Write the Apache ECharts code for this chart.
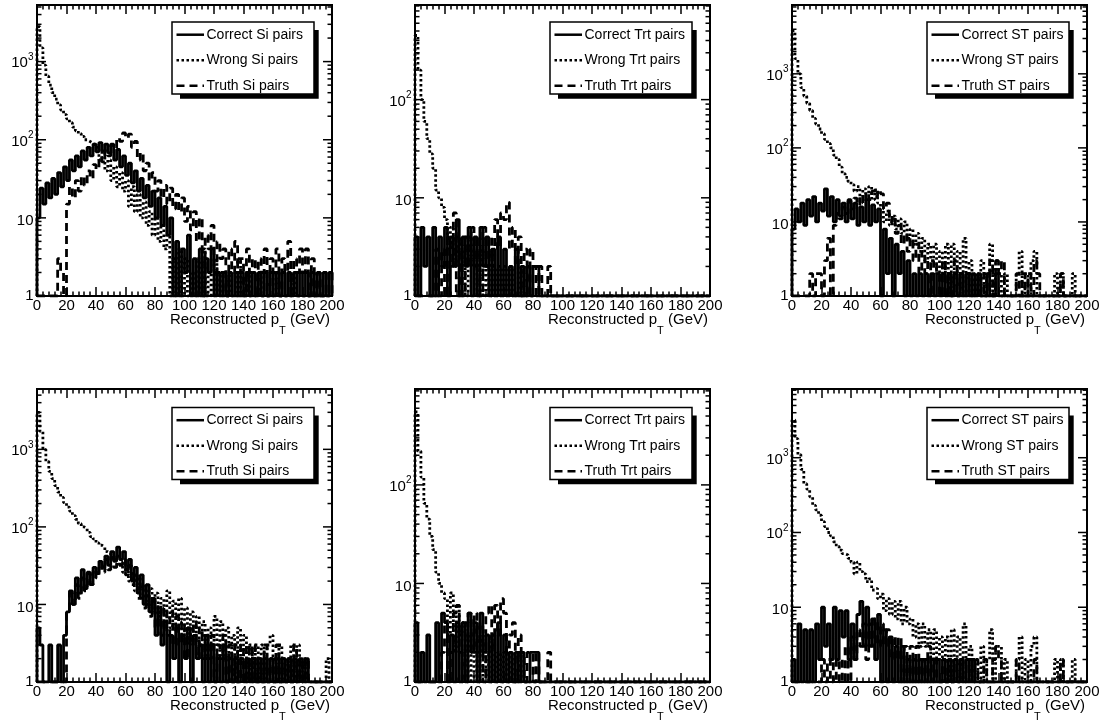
<!DOCTYPE html>
<html>
<head>
<meta charset="utf-8">
<script src="https://cdn.jsdelivr.net/npm/echarts@6/dist/echarts.min.js"></script>
<style>
html,body{margin:0;padding:0;background:#fff;}
#chart{width:1107px;height:724px;}
</style>
</head>
<body>
<div id="chart"></div>
<script>
// ---------------- DATA ----------------
const BIN_WIDTH = 2;            // GeV per bin
const X_RANGE = [0, 200];       // reconstructed pT range (GeV)
const X_TICK_INTERVAL = 20;
const Y_MANTISSAS = [1, 2, 3, 4, 5, 6, 7, 8, 9];
const detectors = ['Si', 'Trt', 'ST'];
const kinds = ['Correct', 'Wrong', 'Truth'];
const xTitle = 'Reconstructed p{sub|T} (GeV)';
const yAxisMax = [5300, 920, 8500, 6000, 940, 8300];

// Row 1 — Si
const row1SiCorrect = [10,24,15,28,18,32,20,38,25,45, 30,55,40,62,45,72,55,80,62,88, 70,92,72,88,68,85,55,75,45,62, 35,50,28,40,22,32,18,26,14,22, 10,18,8,14,6,10,0,5,1,4, 2,6,1,3,0,4,1,3,2,4, 1,2,1,2,1,2,1,2,1,2, 1,2,1,2,1,2,1,2,1,2, 1,2,1,2,1,2,1,2,1,2, 1,2,1,2,1,2,1,2,1,2];
const row1SiWrong = [2800,1500,900,650,500,400,330,280,240,210, 185,165,145,130,120,110,100,95,90,85, 80,55,70,40,55,30,45,25,38,22, 30,14,25,12,20,10,16,8,12,6, 10,5,8,4,6,0,3,1,4,0, 3,1,2,0,3,1,4,0,2,1, 3,0,2,1,0,2,1,0,3,0, 1,2,0,1,0,2,0,1,0,1, 0,2,0,1,0,1,0,2,0,1, 0,1,0,0,1,0,0,1,0,0];
const row1SiTruth = [0,0,0,0,0,0,0,3,2,0, 15,25,18,30,22,34,26,40,32,48, 42,60,52,72,62,88,78,105,95,122, 105,118,80,95,55,68,40,50,30,38, 22,30,18,26,15,24,13,20,12,18, 9,14,7,12,5,10,1,6,4,8, 2,5,3,4,1,4,2,5,2,3, 1,4,2,3,1,3,2,4,1,3, 2,4,1,3,2,5,1,3,2,4, 2,4,1,3,0,2,0,1,2,2];

// Row 1 — Trt
const row1TrtCorrect = [4,1,5,2,4,1,5,1,4,2, 5,1,4,2,6,1,4,2,5,1, 4,1,5,2,4,1,3,1,4,1, 3,1,2,1,3,1,2,1,2,1, 2,2,0,0,0,0,0,0,0,0, 0,0,0,0,0,0,0,0,0,0, 0,0,0,0,0,0,0,0,0,0, 0,0,0,0,0,0,0,0,0,0, 0,0,0,0,0,0,0,0,0,0, 0,0,0,0,0,0,0,0,0,0];
const row1TrtWrong = [450,200,100,60,40,28,20,12,10,8, 6,3,5,2,4,2,3,1,4,2, 3,1,3,1,2,1,3,1,2,1, 2,1,2,0,1,2,0,1,0,1, 0,0,0,0,0,0,0,0,0,0, 0,0,0,0,0,0,0,0,0,0, 0,0,0,0,0,0,0,0,0,0, 0,0,0,0,0,0,0,0,0,0, 0,0,0,0,0,0,0,0,0,0, 0,0,0,0,0,0,0,0,0,0];
const row1TrtTruth = [0,0,0,0,0,0,1,3,1,3, 1,4,2,7,1,4,1,4,2,5, 2,4,1,5,2,4,2,6,3,7, 6,9,3,5,2,4,1,3,1,3, 2,1,2,0,0,2,0,0,0,0, 0,0,0,0,0,0,0,0,0,0, 0,0,0,0,0,0,0,0,0,0, 0,0,0,0,0,0,0,0,0,0, 0,0,0,0,0,0,0,0,0,0, 0,0,0,0,0,0,0,0,0,0];

// Row 1 — ST
const row1StCorrect = [8,15,10,18,9,20,12,22,10,18, 14,28,12,22,10,20,12,18,10,20, 11,18,9,16,10,20,9,17,10,15, 1,8,2,6,1,5,2,4,1,3, 1,2,1,2,1,2,1,2,1,2, 1,2,1,2,1,2,1,2,1,2, 1,2,1,2,0,1,2,1,0,2, 1,0,1,0,1,0,0,0,0,0, 0,0,0,0,0,0,0,0,0,0, 0,0,0,0,0,0,0,0,0,0];
const row1StWrong = [3800,1600,1000,650,500,400,320,250,210,180, 155,130,115,100,80,70,55,45,40,35, 32,26,30,22,28,24,30,20,27,18, 16,10,14,9,12,8,11,7,10,6, 8,5,7,4,6,3,5,3,5,2, 4,2,5,1,5,2,4,1,6,2, 3,1,2,1,3,0,2,5,1,3, 2,1,2,0,1,0,2,4,1,2, 1,3,4,1,0,0,1,0,0,2, 0,2,0,0,0,2,0,0,0,0];
const row1StTruth = [0,0,0,0,0,0,2,0,2,2, 0,3,6,1,9,13,11,16,13,19, 15,21,17,23,18,25,20,26,22,27, 24,15,18,10,12,7,9,5,7,4, 6,3,5,2,4,2,3,1,3,2, 1,3,1,2,1,3,1,2,2,1, 2,1,0,2,1,2,1,3,1,3, 2,3,1,0,1,0,2,1,2,1, 2,1,3,2,0,0,0,0,0,1, 0,2,0,0,0,0,0,0,0,0];

// Row 2 — Si
const row2SiCorrect = [5,3,1,0,3,0,1,3,0,4, 8,15,10,22,14,28,16,25,18,30, 25,36,30,42,32,48,36,55,38,48, 28,38,20,30,14,24,10,18,8,12, 4,8,3,6,0,4,2,5,1,4, 2,5,1,4,2,3,1,4,1,3, 1,2,1,3,1,2,1,2,1,2, 1,2,1,2,1,2,1,2,1,2, 1,2,1,2,1,2,1,2,1,2, 1,2,1,0,0,0,0,0,0,0];
const row2SiWrong = [3000,1700,1000,700,520,420,340,280,240,205, 180,160,140,125,110,100,95,85,75,70, 62,58,55,48,46,40,38,32,35,26, 30,20,25,15,22,12,18,10,16,9, 14,7,12,6,15,5,11,5,12,4, 9,3,8,4,7,3,6,2,5,3, 7,2,6,2,5,2,4,1,5,2, 4,1,3,1,3,1,3,1,3,4, 2,1,3,1,2,1,3,1,3,1, 2,1,0,0,0,0,0,1,2,1];
const row2SiTruth = [0,0,0,0,0,0,0,0,0,0, 8,14,10,18,12,22,15,26,18,28, 22,34,26,38,28,40,30,42,32,38, 24,32,18,24,12,17,9,13,7,11, 5,10,4,9,4,8,3,7,3,6, 2,5,3,6,2,5,2,4,2,4, 1,3,2,4,1,3,1,3,1,3, 1,3,1,3,1,2,1,3,1,2, 1,3,1,2,1,2,1,3,1,2, 1,2,0,0,0,0,0,0,1,0];

// Row 2 — Trt
const row2TrtCorrect = [4,0,2,1,3,1,0,4,1,5, 4,1,3,1,4,1,4,1,5,2, 4,1,5,2,3,1,3,1,4,1, 3,1,2,0,2,1,2,0,1,2, 2,2,0,0,0,0,0,0,0,0, 0,0,0,0,0,0,0,0,0,0, 0,0,0,0,0,0,0,0,0,0, 0,0,0,0,0,0,0,0,0,0, 0,0,0,0,0,0,0,0,0,0, 0,0,0,0,0,0,0,0,0,0];
const row2TrtWrong = [550,220,120,65,45,30,22,13,10,8, 7,3,8,2,6,3,4,1,3,1, 2,1,3,1,2,1,3,1,2,1, 2,1,2,0,1,2,1,0,1,0, 0,0,0,0,0,0,0,0,0,0, 0,0,0,0,0,0,0,0,0,0, 0,0,0,0,0,0,0,0,0,0, 0,0,0,0,0,0,0,0,0,0, 0,0,0,0,0,0,0,0,0,0, 0,0,0,0,0,0,0,0,0,0];
const row2TrtTruth = [0,0,0,0,0,0,0,0,0,2, 4,1,2,5,6,2,1,4,5,2, 5,2,4,1,5,6,2,6,3,7, 5,2,3,4,1,3,2,1,2,2, 1,2,0,0,0,2,0,0,0,0, 0,0,0,0,0,0,0,0,0,0, 0,0,0,0,0,0,0,0,0,0, 0,0,0,0,0,0,0,0,0,0, 0,0,0,0,0,0,0,0,0,0, 0,0,0,0,0,0,0,0,0,0];

// Row 2 — ST
const row2StCorrect = [2,1,6,1,5,1,5,1,6,2, 10,3,6,2,10,2,9,4,9,2, 6,2,8,12,3,10,3,7,2,8, 1,5,1,4,1,3,1,3,1,2, 1,2,1,2,1,2,1,2,1,2, 1,2,1,2,1,2,1,2,1,2, 1,2,0,1,0,1,0,0,0,0, 0,0,0,0,0,0,0,0,0,0, 0,0,0,0,0,0,0,0,0,0, 0,0,0,0,0,0,0,0,0,0];
const row2StWrong = [3200,1800,1100,700,450,380,300,230,200,170, 140,120,100,90,75,65,58,52,50,45, 40,28,40,30,28,22,24,17,18,13, 15,9,13,8,12,7,12,6,10,6, 7,4,6,3,6,3,5,2,5,2, 4,2,4,1,5,2,4,1,6,2, 3,1,2,0,3,1,2,5,1,3, 3,1,2,0,1,0,2,4,1,2, 1,3,4,1,0,0,1,0,0,2, 0,2,0,0,0,2,0,0,0,0];
const row2StTruth = [0,0,0,0,0,0,0,0,0,0, 2,0,2,1,2,1,2,0,3,1, 4,2,5,3,6,2,6,3,7,3, 6,3,5,2,4,2,4,1,3,1, 3,1,3,1,2,1,3,1,2,1, 1,2,1,2,1,2,1,2,1,0, 2,1,2,0,1,2,1,0,2,3, 2,1,0,1,0,0,2,1,0,1, 0,1,2,1,0,0,0,0,0,1, 0,2,0,0,0,0,0,0,0,0];

// ---------------- LAYOUT ----------------
const FONT = '"Liberation Sans", Arial, Helvetica, sans-serif';
const gridLefts = [37, 415, 792];
const gridTops = [5, 389];
const gridHeights = [291, 293];
const GRID_W = 295;
const legendDy = [17, 18.5];

const panelSeries = [
  [row1SiCorrect, row1SiWrong, row1SiTruth],
  [row1TrtCorrect, row1TrtWrong, row1TrtTruth],
  [row1StCorrect, row1StWrong, row1StTruth],
  [row2SiCorrect, row2SiWrong, row2SiTruth],
  [row2TrtCorrect, row2TrtWrong, row2TrtTruth],
  [row2StCorrect, row2StWrong, row2StTruth]
];
const dashes = [null, [2.5, 2.5], [8, 5]];

function toSteps(counts) {
  const pts = [[X_RANGE[0], 1]];
  counts.forEach((c, i) => pts.push([X_RANGE[0] + i * BIN_WIDTH, Math.max(c, 1)]));
  const end = X_RANGE[0] + counts.length * BIN_WIDTH;
  pts.push([end, Math.max(counts[counts.length - 1], 1)]);
  pts.push([end, 1]);
  return pts;
}
function isPow10(v) {
  const l = Math.log10(v);
  return Math.abs(l - Math.round(l)) < 1e-6;
}

const grids = [], xAxes = [], yAxes = [], series = [], graphics = [];

for (let p = 0; p < 6; p++) {
  const row = Math.floor(p / 3), col = p % 3;
  const gl = gridLefts[col], gt = gridTops[row], gh = gridHeights[row];
  const det = detectors[col];
  grids.push({left: gl, top: gt, width: GRID_W, height: gh, show: true,
    borderColor: '#000', borderWidth: 2, backgroundColor: 'transparent',
    containLabel: false, outerBoundsMode: 'none'});

  const tickCommon = {inside: true, length: 9, lineStyle: {color: '#000', width: 1.5}};
  const minorCommon = {show: true, splitNumber: 5, length: 4.5, lineStyle: {color: '#000', width: 1.5}};
  xAxes.push({
    gridIndex: p, type: 'value', position: 'bottom', min: X_RANGE[0], max: X_RANGE[1], interval: X_TICK_INTERVAL,
    axisLine: {show: false}, axisTick: tickCommon, minorTick: minorCommon,
    splitLine: {show: false}, minorSplitLine: {show: false},
    axisLabel: {fontSize: 15, color: '#000', margin: 2, fontFamily: FONT, showMinLabel: true, showMaxLabel: true, hideOverlap: false}
  });
  xAxes.push({
    gridIndex: p, type: 'value', position: 'top', min: X_RANGE[0], max: X_RANGE[1], interval: X_TICK_INTERVAL,
    axisLine: {show: false}, axisTick: tickCommon, minorTick: minorCommon,
    splitLine: {show: false}, axisLabel: {show: false}
  });
  yAxes.push({
    gridIndex: p, type: 'log', logBase: 10, min: 1, max: yAxisMax[p],
    axisLine: {show: false}, axisTick: {show: false}, splitLine: {show: false},
    axisLabel: {
      color: '#000', fontSize: 15, fontFamily: FONT, margin: 3.5, showMinLabel: true, showMaxLabel: false,
      formatter: v => {
        if (!isPow10(v)) return '';
        const e = Math.round(Math.log10(v));
        if (e === 0) return '1';
        if (e === 1) return '{n|10}';
        return '{b|10}{s|' + e + '}';
      },
      rich: {
        n: {fontSize: 15, fontFamily: FONT, color: '#000', padding: [6, 0, 0, 0]},
        b: {fontSize: 15, fontFamily: FONT, color: '#000', verticalAlign: 'bottom'},
        s: {fontSize: 10, fontFamily: FONT, color: '#000', verticalAlign: 'bottom', padding: [0, 0, 8.5, 0]}
      }
    }
  });

  panelSeries[p].forEach((counts, k) => {
    series.push({
      name: kinds[k] + ' ' + det + ' pairs', type: 'line', xAxisIndex: 2 * p, yAxisIndex: p,
      data: toSteps(counts), step: 'end', symbol: 'none', showSymbol: false, clip: true, silent: true,
      lineStyle: {color: '#000', width: 2.8, type: dashes[k] || 'solid'}, z: 2 + k
    });
  });

  // log-axis major/minor ticks on both vertical sides
  const yTicks = [];
  for (let e = 0; Math.pow(10, e) <= yAxisMax[p]; e++) {
    Y_MANTISSAS.forEach(m => { const v = m * Math.pow(10, e); if (v <= yAxisMax[p]) yTicks.push([X_RANGE[0], v]); });
  }
  series.push({
    type: 'custom', xAxisIndex: 2 * p, yAxisIndex: p, silent: true, z: 6, data: yTicks,
    renderItem: (params, api) => {
      const v = api.value(1);
      const l = api.coord([X_RANGE[0], v]);
      const r = api.coord([X_RANGE[1], v]);
      const len = isPow10(v) ? 9 : 4.5;
      return {type: 'group', children: [
        {type: 'line', shape: {x1: l[0], y1: l[1], x2: l[0] + len, y2: l[1]}, style: {stroke: '#000', lineWidth: 1.5}},
        {type: 'line', shape: {x1: r[0] - len, y1: r[1], x2: r[0], y2: r[1]}, style: {stroke: '#000', lineWidth: 1.5}}
      ]};
    }
  });

  // x-axis title, right-aligned under the axis end
  graphics.push({type: 'text', z: 50, silent: true, x: gl + GRID_W - 2, y: gt + gh + 6.5,
    style: {text: xTitle, fontSize: 15, fontFamily: FONT, fill: '#000', align: 'right', verticalAlign: 'top',
      rich: {sub: {fontSize: 11, fontFamily: FONT, fill: '#000', verticalAlign: 'top', padding: [23, 0, 0, 0]}}}});

  // legend box (ROOT style with shadow)
  const bx = gl + 135, by = gt + legendDy[row], bw = 142, bh = 72;
  graphics.push({type: 'rect', z: 99, silent: true, shape: {x: bx + 8, y: by + 8, width: bw - 3.3, height: bh - 3.3}, style: {fill: '#000'}});
  graphics.push({type: 'rect', z: 100, silent: true, shape: {x: bx, y: by, width: bw, height: bh}, style: {fill: '#fff', stroke: '#000', lineWidth: 1.5}});
  const rowsDy = [12.7, 38.3, 63.7];
  kinds.forEach((kind, k) => {
    const y = by + rowsDy[k];
    graphics.push({type: 'line', z: 101, silent: true, shape: {x1: bx + 4.5, y1: y, x2: bx + 32, y2: y},
      style: {stroke: '#000', lineWidth: 2.5, lineDash: dashes[k] || null}});
    graphics.push({type: 'text', z: 101, silent: true, x: bx + 34.5, y: y,
      style: {text: kind + ' ' + det + ' pairs', font: '14px ' + FONT, fill: '#000', align: 'left', verticalAlign: 'middle'}});
  });
}

const chart = echarts.init(document.getElementById('chart'), null, {renderer: 'canvas'});
chart.setOption({
  animation: false,
  backgroundColor: '#fff',
  grid: grids, xAxis: xAxes, yAxis: yAxes, series: series, graphic: graphics
});
</script>
</body>
</html>
